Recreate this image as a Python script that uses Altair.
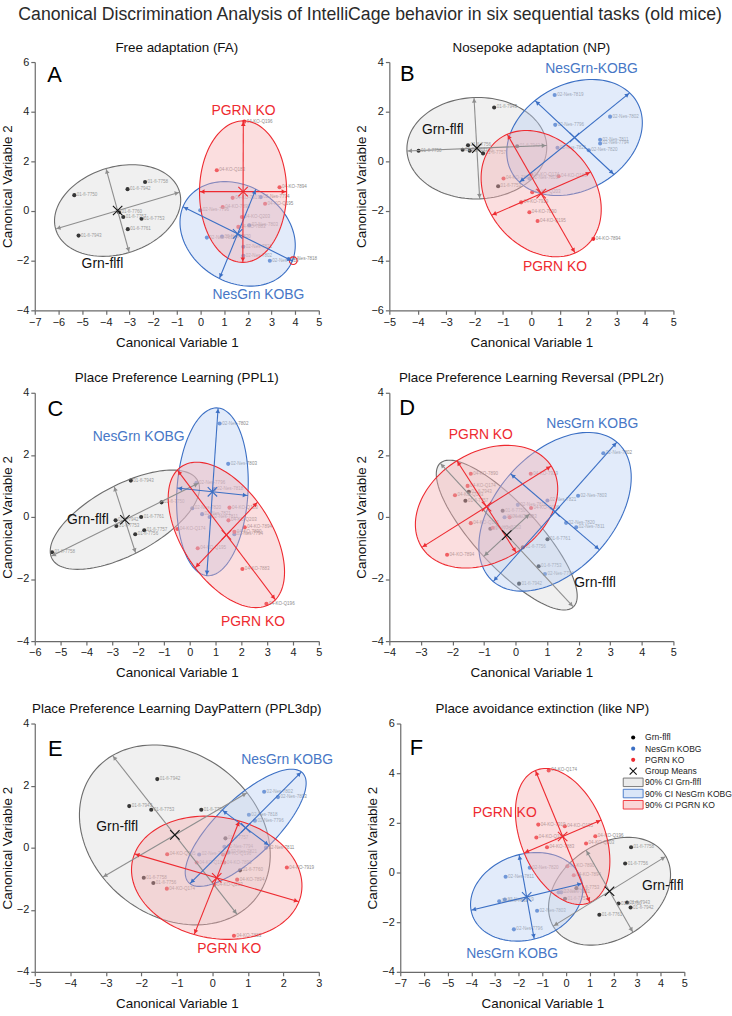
import math
import numpy as np
import pandas as pd
import altair as alt

FONT = "Liberation Sans"
GRN, NES, KO = "Grn-flfl", "NesGrn KOBG", "PGRN KO"

# ---------------------------------------------------------------- data
# points: (group, CV1, CV2, animal id)
A_points = [
    (GRN, -2.34, 1.17, "01-fl-7758"), (GRN, -3.08, 0.88, "01-fl-7942"), (GRN, -5.33, 0.64, "01-fl-7750"),
    (GRN, -3.44, -0.05, "01-fl-7760"), (GRN, -3.26, -0.24, "01-fl-7757"), (GRN, -2.49, -0.31, "01-fl-7753"),
    (GRN, -3.07, -0.73, "01-fl-7761"), (GRN, -5.15, -0.99, "01-fl-7943"),
    (NES, 2.55, 0.56, "02-Nes-7794"), (NES, -0.01, 0.03, "02-Nes-7796"), (NES, 2.06, -0.57, "02-Nes-7803"),
    (NES, 0.27, -1.07, "02-Nes-7811"), (NES, 0.91, -1.03, "02-Nes-7820"), (NES, 1.81, -1.44, "02-Nes-7821"),
    (NES, 1.81, -1.80, "02-Nes-7802"), (NES, 2.93, -2.00, "02-Nes-7819"), (NES, 3.71, -1.93, "02-Nes-7818"),
    (KO, 1.85, 3.60, "04-KO-Q196"), (KO, 0.69, 1.64, "04-KO-Q183"), (KO, 3.34, 0.96, "04-KO-7894"),
    (KO, 1.36, 0.53, "04-KO-7919"), (KO, 2.73, 0.29, "04-KO-Q195"), (KO, 0.94, 0.16, "04-KO-7890"),
    (KO, 1.75, -0.24, "04-KO-Q203"), (KO, 1.60, -0.64, "04-KO-7883"),
]
B_points = [
    (GRN, -1.31, 2.17, "01-fl-7943"), (GRN, -3.97, 0.43, "01-fl-7750"), (GRN, -2.42, 0.47, "01-fl-7761"),
    (GRN, -2.23, 0.65, "01-fl-7756"), (GRN, -2.17, 0.43, "01-fl-7760"), (GRN, -1.70, 0.32, "01-fl-7757"),
    (GRN, -0.50, 0.61, "01-fl-7942"), (GRN, -1.17, -1.00, "01-fl-7753"),
    (NES, 0.82, 2.67, "02-Nes-7819"), (NES, 2.77, 1.80, "02-Nes-7802"), (NES, 0.84, 1.47, "02-Nes-7796"),
    (NES, 2.42, 0.87, "02-Nes-7811"), (NES, 2.42, 0.72, "02-Nes-7794"), (NES, 2.02, 0.45, "02-Nes-7820"),
    (NES, 0.92, 0.55, "02-Nes-7821"), (NES, -0.07, -0.69, "02-Nes-7803"),
    (KO, -0.98, -0.69, "04-KO-7883"), (KO, -0.01, -0.53, "04-KO-Q174"), (KO, 0.96, -0.60, "04-KO-Q183"),
    (KO, 0.03, -1.24, "04-KO-Q203"), (KO, -0.36, -1.65, "04-KO-7919"), (KO, -0.07, -2.05, "04-KO-7890"),
    (KO, 0.22, -2.40, "04-KO-Q195"), (KO, 2.18, -3.12, "04-KO-7894"),
]
C_points = [
    (GRN, -2.28, 1.17, "01-fl-7943"), (GRN, -1.09, 0.47, "01-fl-7750"), (GRN, -1.88, 0.00, "01-fl-7761"),
    (GRN, -2.87, -0.11, "01-fl-7942"), (GRN, -2.84, -0.29, "01-fl-7753"), (GRN, -1.76, -0.43, "01-fl-7757"),
    (GRN, -2.11, -0.56, "01-fl-7756"), (GRN, -5.33, -1.14, "01-fl-7758"),
    (NES, 1.16, 3.01, "02-Nes-7802"), (NES, 1.49, 1.71, "02-Nes-7803"), (NES, 0.26, 1.10, "02-Nes-7796"),
    (NES, 0.96, 0.90, "02-Nes-7818"), (NES, 0.10, 0.28, "02-Nes-7820"), (NES, 0.48, 0.09, "02-Nes-7821"),
    (NES, 0.77, 0.00, "02-Nes-7811"), (NES, 1.73, -0.56, "02-Nes-7794"),
    (KO, 1.54, 0.30, "04-KO-Q183"), (KO, 1.50, -0.11, "04-KO-Q203"), (KO, 2.13, -0.33, "04-KO-7894"),
    (KO, 1.73, -0.48, "04-KO-7890"), (KO, -0.48, -0.39, "04-KO-Q174"), (KO, 0.31, -1.01, "04-KO-Q195"),
    (KO, 2.04, -1.68, "04-KO-7883"), (KO, 2.97, -2.80, "04-KO-Q196"),
]
D_points = [
    (GRN, -1.48, 0.81, "01-fl-7943"), (GRN, -1.59, 0.52, "01-fl-7757"), (GRN, -0.41, 0.20, "01-fl-7750"),
    (GRN, -0.80, -0.38, "01-fl-7760"), (GRN, 1.01, -0.72, "01-fl-7761"), (GRN, 0.23, -0.98, "01-fl-7756"),
    (GRN, 0.73, -1.59, "01-fl-7753"), (GRN, 0.11, -2.15, "01-fl-7942"),
    (NES, 2.78, 2.05, "02-Nes-7802"), (NES, 1.98, 0.68, "02-Nes-7803"), (NES, 1.01, 0.53, "02-Nes-7821"),
    (NES, 0.07, 0.39, "02-Nes-7818"), (NES, -0.35, -0.01, "02-Nes-7796"), (NES, 1.60, -0.19, "02-Nes-7820"),
    (NES, 1.92, -0.33, "02-Nes-7811"), (NES, 0.93, -1.84, "02-Nes-7794"),
    (KO, -1.42, 1.39, "04-KO-7890"), (KO, 0.48, 1.39, "04-KO-7919"), (KO, -1.52, 1.00, "04-KO-Q174"),
    (KO, -1.92, 0.70, "04-KO-Q183"), (KO, 0.49, 0.29, "04-KO-Q196"), (KO, -0.19, -0.01, "04-KO-7883"),
    (KO, -1.42, -0.20, "04-KO-Q195"), (KO, -0.72, -0.35, "04-KO-Q203"), (KO, -2.17, -1.22, "04-KO-7894"),
]
E_points = [
    (GRN, -1.55, 2.21, "01-fl-7942"), (GRN, -2.34, 1.34, "01-fl-7943"), (GRN, -1.72, 1.22, "01-fl-7753"),
    (GRN, -0.31, 1.22, "01-fl-7750"), (GRN, 0.37, 0.30, "01-fl-7757"), (GRN, 0.78, -0.73, "01-fl-7760"),
    (GRN, -1.93, -0.97, "01-fl-7758"), (GRN, -1.66, -1.14, "01-fl-7756"),
    (NES, 1.46, 1.80, "02-Nes-7802"), (NES, 1.85, 1.63, "02-Nes-7803"), (NES, 1.03, 1.06, "02-Nes-7818"),
    (NES, 1.20, 0.87, "02-Nes-7796"), (NES, 0.34, 0.03, "02-Nes-7794"), (NES, 1.51, 0.00, "02-Nes-7811"),
    (NES, 0.45, -0.15, "02-Nes-7821"), (NES, -0.37, -0.22, "02-Nes-7820"),
    (KO, -1.27, -0.21, "04-KO-Q195"), (KO, 0.30, -0.22, "04-KO-Q196"), (KO, -0.44, -0.48, "04-KO-Q183"),
    (KO, 0.34, -0.48, "04-KO-7890"), (KO, 2.10, -0.64, "04-KO-7919"), (KO, 0.70, -1.03, "04-KO-7894"),
    (KO, 0.06, -1.19, "04-KO-Q203"), (KO, -1.28, -1.32, "04-KO-Q174"), (KO, 0.61, -2.84, "04-KO-7883"),
]
F_points = [
    (GRN, 2.75, 1.02, "01-fl-7758"), (GRN, 2.50, 0.36, "01-fl-7756"), (GRN, 0.44, -0.63, "01-fl-7753"),
    (GRN, -0.04, -1.06, "01-fl-7757"), (GRN, 2.22, -1.25, "01-fl-7750"), (GRN, 2.58, -1.21, "01-fl-7943"),
    (GRN, 2.73, -1.41, "01-fl-7942"), (GRN, 1.41, -1.70, "01-fl-7761"),
    (NES, -1.53, 0.19, "02-Nes-7820"), (NES, -2.55, -0.17, "02-Nes-7811"), (NES, -2.58, -1.09, "02-Nes-7819"),
    (NES, -2.82, -1.16, "02-Nes-7802"), (NES, -1.22, -1.54, "02-Nes-7803"), (NES, -2.20, -2.29, "02-Nes-7796"),
    (NES, -0.31, -0.80, "02-Nes-7794"), (NES, -0.20, -0.80, "02-Nes-7821"),
    (KO, -0.73, 4.11, "04-KO-Q174"), (KO, -1.17, 1.93, "04-KO-7919"), (KO, -0.05, 1.86, "04-KO-Q195"),
    (KO, -1.25, 1.41, "04-KO-Q183"), (KO, 1.24, 1.46, "04-KO-Q196"), (KO, -0.80, 1.02, "04-KO-7883"),
    (KO, 0.85, 1.17, "04-KO-Q203"), (KO, 0.06, 0.25, "04-KO-7890"), (KO, 0.33, -0.11, "04-KO-7894"),
]

# 90% CI ellipses: (group, mean CV1, mean CV2, major-axis end CV1, CV2, minor-axis end CV1, CV2)
A_ellipses = [(GRN, -3.50, 0.02, -0.88, 0.76, -3.99, 1.71),
              (NES, 1.57, -0.92, -0.74, 0.17, 2.34, 0.88),
              (KO, 1.80, 0.78, 1.81, 3.63, 3.64, 0.78)]
B_ellipses = [(GRN, -1.92, 0.53, 0.54, 0.64, -2.02, 2.57),
              (NES, 1.52, 0.96, 3.46, 2.76, 0.13, 2.45),
              (KO, 0.345, -1.30, -0.85, 1.09, 2.09, -0.43)]
C_ellipses = [(GRN, -2.51, -0.09, 0.35, 1.09, -2.93, 0.99),
              (NES, 0.88, 0.81, 1.10, 3.51, 2.25, 0.69),
              (KO, 1.42, -0.58, -0.48, 1.51, 2.63, 0.48)]
D_ellipses = [(GRN, -0.28, -0.585, 1.83, -2.90, 0.45, 0.10),
              (NES, 1.25, 0.165, 3.21, 2.41, -0.16, 1.39),
              (KO, -0.92, 0.33, 1.13, 1.64, -1.86, 1.81)]
E_ellipses = [(GRN, -1.055, 0.41, -2.81, 2.97, 0.98, 1.77),
              (NES, 0.94, 0.64, 2.51, 2.44, 0.28, 1.21),
              (KO, 0.125, -0.97, 2.44, -1.74, 0.76, 0.86)]
F_ellipses = [(GRN, 1.84, -0.755, 4.22, 0.65, 0.85, 0.90),
              (NES, -1.66, -0.98, -4.01, -1.52, -1.98, 0.72),
              (KO, -0.14, 1.45, -1.29, 4.11, 1.49, 2.11)]

# group name annotations: (group, CV1, CV2, text)
A_names = [(KO, 1.82, 4.03, "PGRN KO"), (GRN, -4.14, -2.13, "Grn-flfl"), (NES, 2.45, -3.37, "NesGrn KOBG")]
B_names = [(NES, 2.12, 3.71, "NesGrn-KOBG"), (GRN, -3.12, 1.27, "Grn-flfl"), (KO, 0.83, -4.27, "PGRN KO")]
C_names = [(NES, -1.98, 2.57, "NesGrn KOBG"), (GRN, -3.94, -0.09, "Grn-flfl"), (KO, 2.45, -3.40, "PGRN KO")]
D_names = [(KO, -1.10, 2.64, "PGRN KO"), (NES, 2.43, 2.98, "NesGrn KOBG"), (GRN, 2.52, -2.13, "Grn-flfl")]
E_names = [(NES, 2.11, 2.81, "NesGrn KOBG"), (GRN, -2.68, 0.65, "Grn-flfl"), (KO, 0.48, -3.26, "PGRN KO")]
F_names = [(KO, -2.59, 2.41, "PGRN KO"), (NES, -2.27, -3.27, "NesGrn KOBG"), (GRN, 4.09, -0.56, "Grn-flfl")]

# outlying observation circled in FA
A_flagged = [(3.92, -2.00)]

PANELS = [
    dict(letter="A", title="Free adaptation (FA)", xdom=(-7, 5), ydom=(-4, 6), ystep=2,
         points=A_points, ellipses=A_ellipses, names=A_names, flagged=A_flagged, lpos=(20, 20.6)),
    dict(letter="B", title="Nosepoke adaptation (NP)", xdom=(-5, 5), ydom=(-6, 4), ystep=2,
         points=B_points, ellipses=B_ellipses, names=B_names, flagged=[], lpos=(18, 18.6)),
    dict(letter="C", title="Place Preference Learning (PPL1)", xdom=(-6, 5), ydom=(-4, 4), ystep=2,
         points=C_points, ellipses=C_ellipses, names=C_names, flagged=[], lpos=(20.7, 23.2)),
    dict(letter="D", title="Place Preference Learning Reversal (PPL2r)", xdom=(-4, 5), ydom=(-4, 4), ystep=2,
         points=D_points, ellipses=D_ellipses, names=D_names, flagged=[], lpos=(18, 21.9)),
    dict(letter="E", title="Place Preference Learning DayPattern (PPL3dp)", xdom=(-5, 3), ydom=(-4, 4), ystep=2,
         points=E_points, ellipses=E_ellipses, names=E_names, flagged=[], lpos=(20.7, 32.2)),
    dict(letter="F", title="Place avoidance extinction (like NP)", xdom=(-7, 5), ydom=(-4, 6), ystep=2,
         points=F_points, ellipses=F_ellipses, names=F_names, flagged=[], lpos=(16.3, 31.9)),
]

LEGEND_ITEMS = [("dot", GRN, "Grn-flfl"), ("dot", NES, "NesGrn KOBG"), ("dot", KO, "PGRN KO"),
                ("mean", GRN, "Group Means"), ("box", GRN, "90% CI Grn-flfl"),
                ("box", NES, "90% CI NesGrn KOBG"), ("box", KO, "90% CI PGRN KO")]

# ---------------------------------------------------------------- styles
W, H = 286, 250
POINT_COL = {GRN: "#000000", NES: "#3b6fc4", KO: "#ee2a30"}
EDGE_COL = {GRN: "#6c6c6c", NES: "#3b6fc4", KO: "#ee2a30"}
ARROW_COL = {GRN: "#8e8e8e", NES: "#3b6fc4", KO: "#ee2a30"}
MEAN_COL = {GRN: "#111111", NES: "#3b6fc4", KO: "#ee2a30"}
FILL_COL = {GRN: "#c8c8c8", NES: "#b9cff2", KO: "#f5adb0"}
FILL_OP = {GRN: 0.27, NES: 0.42, KO: 0.40}
NAME_COL = {GRN: "#111111", NES: "#4777c6", KO: "#ee2a30"}
XPATH = "M-1,-1L1,1M-1,1L1,-1"


def ellipse_frame(e, n=121):
    g, cx, cy, ax, ay, bx, by = e
    t = np.linspace(0, 2 * np.pi, n)
    return pd.DataFrame({
        "t": np.arange(n),
        "x": cx + np.cos(t) * (ax - cx) + np.sin(t) * (bx - cx),
        "y": cy + np.cos(t) * (ay - cy) + np.sin(t) * (by - cy),
    })


def axis_frames(ellipses, xdom, ydom):
    sx = W / (xdom[1] - xdom[0])
    sy = H / (ydom[1] - ydom[0])
    rules, heads = [], []
    for g, cx, cy, ax, ay, bx, by in ellipses:
        for ex, ey in ((ax, ay), (bx, by)):
            ends = [(ex, ey), (2 * cx - ex, 2 * cy - ey)]
            rules.append(dict(x=ends[0][0], y=ends[0][1], x2=ends[1][0], y2=ends[1][1], col=ARROW_COL[g]))
            for px, py in ends:
                dxs, dys = (px - cx) * sx, -(py - cy) * sy
                L = math.hypot(dxs, dys)
                ux, uy = dxs / L, dys / L
                back = 3.0
                heads.append(dict(x=px - ux * back / sx, y=py + uy * back / sy,
                                  ang=math.degrees(math.atan2(ux, -uy)) % 360, col=ARROW_COL[g]))
    return pd.DataFrame(rules), pd.DataFrame(heads)


def make_panel(p):
    xdom, ydom = p["xdom"], p["ydom"]
    xs = alt.Scale(domain=list(xdom), nice=False, zero=False)
    ys = alt.Scale(domain=list(ydom), nice=False, zero=False)
    xaxis = alt.Axis(values=list(range(xdom[0], xdom[1] + 1)), title="Canonical Variable 1")
    yaxis = alt.Axis(values=list(range(ydom[0], ydom[1] + 1, p["ystep"])), title="Canonical Variable 2")

    def X(f="x"):
        return alt.X(f"{f}:Q", scale=xs, axis=xaxis)

    def Y(f="y"):
        return alt.Y(f"{f}:Q", scale=ys, axis=yaxis)

    pts = pd.DataFrame(p["points"], columns=["group", "x", "y", "id"])
    pts["col"] = pts["group"].map(POINT_COL)

    layers = []
    layers.append(alt.Chart(pts).mark_circle(size=17, opacity=1).encode(
        x=X(), y=Y(), color=alt.Color("col:N", scale=None)))
    layers.append(alt.Chart(pts).mark_text(align="left", baseline="middle", dx=2.5, fontSize=4.6,
                                          font=FONT, color="#8a8a8a").encode(x=X(), y=Y(), text="id:N"))
    for e in p["ellipses"]:
        g = e[0]
        layers.append(alt.Chart(ellipse_frame(e)).mark_line(
            fill=FILL_COL[g], fillOpacity=FILL_OP[g], stroke=EDGE_COL[g], strokeWidth=1.1,
            interpolate="linear").encode(x=X(), y=Y(), order="t:Q"))
    if p["flagged"]:
        fl = pd.DataFrame(p["flagged"], columns=["x", "y"])
        layers.append(alt.Chart(fl).mark_point(shape="circle", size=60, filled=False, color=POINT_COL[KO],
                                              strokeWidth=1.1, opacity=1).encode(x=X(), y=Y()))
    rules, heads = axis_frames(p["ellipses"], xdom, ydom)
    layers.append(alt.Chart(rules).mark_rule(strokeWidth=1.1).encode(
        x=X(), y=Y(), x2="x2:Q", y2="y2:Q", color=alt.Color("col:N", scale=None)))
    layers.append(alt.Chart(heads).mark_point(shape="triangle-up", filled=True, size=22, opacity=1).encode(
        x=X(), y=Y(), angle=alt.Angle("ang:Q", scale=None), color=alt.Color("col:N", scale=None)))
    means = pd.DataFrame([(e[0], e[1], e[2]) for e in p["ellipses"]], columns=["group", "x", "y"])
    means["col"] = means["group"].map(MEAN_COL)
    layers.append(alt.Chart(means).mark_point(shape=XPATH, filled=False, size=90, strokeWidth=1.1,
                                              opacity=1).encode(
        x=X(), y=Y(), color=alt.Color("col:N", scale=None)))
    names = pd.DataFrame(p["names"], columns=["group", "x", "y", "text"])
    names["col"] = names["group"].map(NAME_COL)
    layers.append(alt.Chart(names).mark_text(fontSize=14, font=FONT, align="center", baseline="middle").encode(
        x=X(), y=Y(), text="text:N", color=alt.Color("col:N", scale=None)))
    one = pd.DataFrame({"k": [0]})
    layers.append(alt.Chart(one).mark_text(text=p["letter"], fontSize=22, font=FONT, align="center",
                                           baseline="alphabetic", color="#000").encode(
        x=alt.value(p["lpos"][0]), y=alt.value(p["lpos"][1])))
    if p["letter"] == "F":
        y0, dy = 14, 11.3
        for i, (kind, g, label) in enumerate(LEGEND_ITEMS):
            yc = y0 + i * dy
            base = alt.Chart(one)
            if kind == "dot":
                layers.append(base.mark_circle(size=17, color=POINT_COL[g], opacity=1).encode(
                    x=alt.value(234.5), y=alt.value(yc)))
            elif kind == "mean":
                layers.append(base.mark_point(shape=XPATH, filled=False, size=50, strokeWidth=1.1,
                                              color="#111", opacity=1).encode(
                    x=alt.value(234.5), y=alt.value(yc)))
            else:
                layers.append(base.mark_rect(fill=FILL_COL[g], fillOpacity=FILL_OP[g] + 0.1,
                                             stroke=EDGE_COL[g], strokeWidth=0.9).encode(
                    x=alt.value(224.5), x2=alt.value(244.5), y=alt.value(yc - 4.3), y2=alt.value(yc + 4.3)))
            layers.append(base.mark_text(text=label, align="left", baseline="middle", fontSize=8.6,
                                         font=FONT, color="#222").encode(
                x=alt.value(246.5), y=alt.value(yc)))

    return alt.layer(*layers).properties(
        width=W, height=H,
        title=alt.TitleParams(p["title"], font=FONT, fontSize=13.5, fontWeight="normal", color="#111",
                              anchor="middle", frame="group", offset=2),
    )


charts = [make_panel(p) for p in PANELS]
rows = [alt.hconcat(charts[i], charts[i + 1], spacing=32) for i in (0, 2, 4)]
chart = alt.vconcat(*rows, spacing=22).properties(
    title=alt.TitleParams("Canonical Discrimination Analysis of IntelliCage behavior in six sequential tasks (old mice)",
                          font=FONT, fontSize=17.8, fontWeight="normal", color="#2a2a2a",
                          anchor="middle", dx=4, offset=17),
    padding={"left": 0, "top": 2, "right": 0, "bottom": 0},
).configure_view(stroke=None).configure_axis(
    grid=False, domainColor="#6a6a6a", tickColor="#6a6a6a", domainWidth=1.2, tickWidth=1.2, tickSize=4,
    labelFont=FONT, labelFontSize=11, labelColor="#222", labelPadding=2, labelFlush=False,
    labelOverlap=False, titleFont=FONT, titleFontSize=13.5, titleFontWeight="normal", titleColor="#111",
).configure_axisX(titlePadding=8).configure_axisY(titlePadding=2)

chart.save("out.html", embed_options={"renderer": "svg", "actions": False})
